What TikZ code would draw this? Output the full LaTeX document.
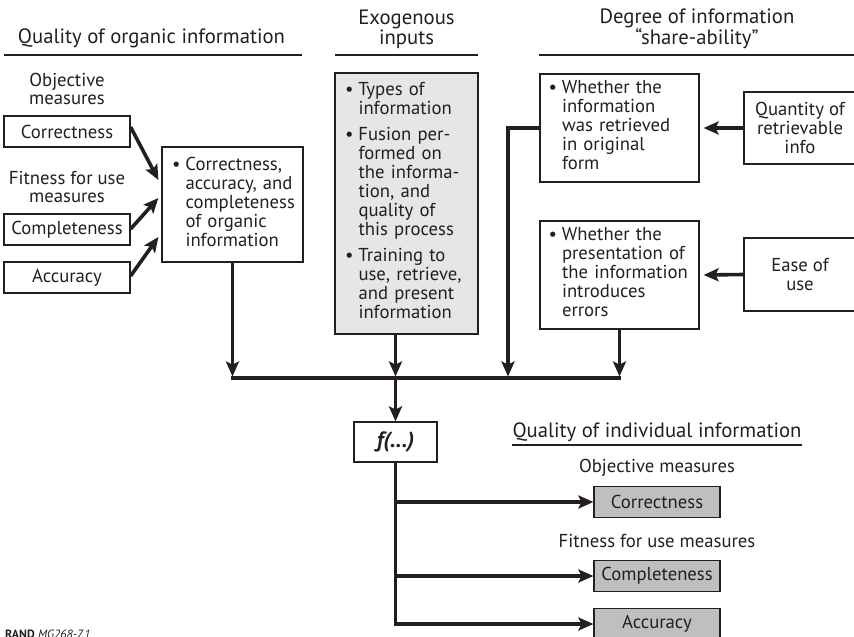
\documentclass[tikz,border=0pt]{standalone}
\usepackage{fontspec}
\setmainfont{PT Sans}
\usetikzlibrary{arrows.meta}
\definecolor{ink}{HTML}{231F20}
\definecolor{exofill}{HTML}{E6E6E6}
\definecolor{outfill}{HTML}{BFBFBF}
\newcommand{\bu}{\makebox[13.5pt][l]{\textbullet}}
\newcommand{\blist}[1]{\begin{tabular}{@{}l@{}l@{}}#1\end{tabular}}
\begin{document}
\begin{tikzpicture}[x=1pt,y=-1pt,
  font=\fontsize{18.7}{19}\selectfont, color=ink,
  box/.style={draw=ink, line width=1.2pt, inner sep=0pt},
  bbox/.style={box, align=left, inner ysep=0pt},
  arr/.style={line width=3.6pt, -{Stealth[length=15pt,width=13pt,inset=3pt]}},
  thickline/.style={line width=3.6pt},
  rulel/.style={line width=1.1pt},
  lbl/.style={inner sep=0pt, anchor=base},
  hdr/.style={lbl, font=\fontsize{20.7}{21}\selectfont}]
\useasboundingbox (0,0) rectangle (854,637);

% headers
\node[hdr] (h1) at (151.5,43) {Quality of organic information};
\node[hdr] (h2a) at (406.5,24) {Exogenous};
\node[hdr] (h2b) at (406.5,44.5) {inputs};
\node[hdr] (h3a) at (697,23.5) {Degree of information};
\node[hdr] (h3b) at (697,44.5) {“share-ability”};
\coordinate (r1a) at (4,55);   \coordinate (r1b) at (302,55);
\coordinate (r2a) at (335,55); \coordinate (r2b) at (478,55);
\coordinate (r3a) at (539,55); \coordinate (r3b) at (854,55);
\draw[rulel] (r1a) -- (r1b);
\draw[rulel] (r2a) -- (r2b);
\draw[rulel] (r3a) -- (r3b);

% left column
\node[lbl] (om1) at (67,86) {Objective};
\node[lbl] (om2) at (67,104) {measures};
\node[lbl] (fm1) at (67,184) {Fitness for use};
\node[lbl] (fm2) at (67,202) {measures};
\node[box, minimum width=126pt, minimum height=31pt] (c1) at (67,131.5) {Correctness};
\node[box, minimum width=126pt, minimum height=31pt] (c2) at (67,229.5) {Completeness};
\node[box, minimum width=126pt, minimum height=31pt] (c3) at (67,277.5) {Accuracy};

\node[bbox, inner xsep=10pt, text width=121pt, minimum height=115pt] (org) at (232.5,204.5)
  {\blist{\bu & Correctness,\\ & accuracy, and\\ & completeness\\ & of organic\\ & information}};

% exogenous
\node[bbox, fill=exofill, inner xsep=10pt, text width=123pt, minimum height=261pt] (exo) at (406.5,203.5)
  {\blist{\bu & Types of\\ & information\\[7pt]
          \bu & Fusion per-\\ & formed on\\ & the informa-\\ & tion, and\\ & quality of\\ & this process\\[7pt]
          \bu & Training to\\ & use, retrieve,\\ & and present\\ & information}};

% share-ability
\node[bbox, inner xsep=8.5pt, text width=142pt, minimum height=108pt] (s1) at (619.5,128)
  {\blist{\bu & Whether the\\ & information\\ & was retrieved\\ & in original\\ & form}};
\node[bbox, inner xsep=8.5pt, text width=142pt, minimum height=108pt] (s2) at (619.5,275)
  {\blist{\bu & Whether the\\ & presentation of\\ & the information\\ & introduces\\ & errors}};
\node[box, align=center, minimum width=112pt, minimum height=72pt] (q) at (800,128)
  {Quantity of\\retrievable\\info};
\node[box, align=center, minimum width=112pt, minimum height=73pt] (e) at (800,274.5)
  {Ease of\\use};

% f box
\node[box, minimum width=83pt, minimum height=40pt, font=\fontsize{22}{22}\selectfont\bfseries\itshape] (f) at (395.5,442) {f(...)};

% bottom right
\node[hdr] (qi) at (657,437) {Quality of individual information};
\coordinate (r4a) at (512,445); \coordinate (r4b) at (802,445);
\draw[rulel] (r4a) -- (r4b);
\node[lbl] (oom) at (657,472) {Objective measures};
\node[lbl] (ofm) at (657,547) {Fitness for use measures};
\node[box, fill=outfill, minimum width=126pt, minimum height=31pt] (oc) at (657,502) {Correctness};
\node[box, fill=outfill, minimum width=126pt, minimum height=31pt] (op) at (657,576) {Completeness};
\node[box, fill=outfill, minimum width=126pt, minimum height=31pt] (oa) at (657,624) {Accuracy};

\node[anchor=base west, inner sep=0pt, font=\fontsize{12}{13}\selectfont] (rand) at (5,638.5)
  {\textbf{RAND} \textit{MG268-7.1}};

% bus
\coordinate (busL) at (232.5,378);
\coordinate (busM) at (395.5,378);
\coordinate (busA) at (508,378);
\coordinate (busR) at (619.5,378);
\draw[thickline] ([xshift=-1.8pt]busL) -- ([xshift=1.8pt]busR);

% connectors
\draw[arr] ([yshift=4.5pt]c1.east) -- ([xshift=-3pt,yshift=24.5pt]org.west);
\draw[arr] ([yshift=0.5pt]c2.east) -- ([xshift=-3pt,yshift=6.5pt]org.west);
\draw[arr] ([yshift=1.5pt]c3.east) -- ([xshift=-3pt,yshift=-32.5pt]org.west);
\draw[arr] (org.south) -- ([yshift=1.5pt]busL);
\draw[arr] (exo.south -| busM) -- ([yshift=1.5pt]busM);
\draw[arr] (s1.west) -| ([yshift=1.5pt]busA);
\draw[arr] (s2.south) -- ([yshift=1.5pt]busR);
\draw[arr] (q.west) -- ([xshift=4pt]s1.east);
\draw[arr] (e.west) -- ([xshift=4pt]s2.east);
\draw[arr] (busM) -- (f.north);
\draw[arr] (f.south) |- (oa.west);
\draw[arr] (f.south |- oc.west) -- (oc.west);
\draw[arr] (f.south |- op.west) -- (op.west);
\end{tikzpicture}
\end{document}
